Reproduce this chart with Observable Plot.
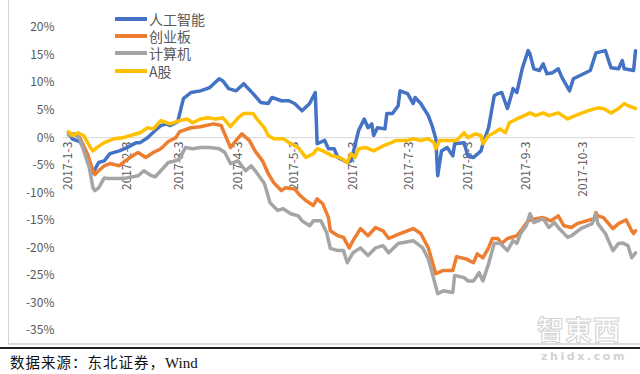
<!DOCTYPE html>
<html><head><meta charset="utf-8">
<script src="https://cdn.jsdelivr.net/npm/d3@7"></script>
<script src="https://cdn.jsdelivr.net/npm/@observablehq/plot@0.6"></script>
<style>
body{margin:0;background:#fff;font-family:"Noto Sans CJK SC","Noto Sans",sans-serif;}
#wrap{position:relative;width:640px;height:374px;overflow:hidden;background:#fff;}
#chart{position:absolute;left:0;top:0;}
#border{position:absolute;left:8px;top:0;width:631px;height:343px;border-left:1px solid #d4d4d4;border-bottom:2px solid #dcdcdc;}
#rule{position:absolute;left:0;top:347px;width:640px;height:2px;background:#222;}
#legend{position:absolute;left:115px;top:10px;}
.row{height:17.4px;display:flex;align-items:center;overflow:visible;}
.sw{width:32px;height:4px;margin-right:2px;flex:none;}
.lt{display:block;font-size:14px;color:#595959;line-height:16px;height:16px;}
#caption{position:absolute;left:10px;top:352px;font-size:14.5px;letter-spacing:1px;color:#111;line-height:20px;}
#caption .w{font-family:"Liberation Serif",serif;letter-spacing:0;font-size:15px;}
#wm1{position:absolute;left:537px;top:314px;font-size:27px;line-height:30px;height:30px;font-weight:bold;color:rgba(255,255,255,0.6);-webkit-text-stroke:1px #d2d2d2;letter-spacing:1px;}
#wm2{position:absolute;left:541px;top:351px;font-size:11px;line-height:12px;height:12px;font-weight:bold;color:#d2d2d2;letter-spacing:2.6px;font-family:"DejaVu Sans",sans-serif;}
</style></head><body>
<div id="wrap">
  <div id="chart"></div>
  <div id="border"></div>
  <div id="legend"></div>
  <div id="wm1">智東西</div>
  <div id="rule"></div>
  <div id="wm2">zhidx.com</div>
  <div id="caption">数据来源：东北证券，<span class="w">Wind</span></div>
</div>
<script>
const seriesNames = ["人工智能", "创业板", "计算机", "A股"];
const seriesColors = ["#4472C4", "#ED7D31", "#A5A5A5", "#FFC000"];

const aiDates = ["01-03","01-05","01-07","01-09","01-12","01-15","01-16","01-19","01-22","01-25","01-30","02-03","02-08","02-10","02-14","02-18","02-21","02-24","02-26","03-02","03-05","03-09","03-14","03-19","03-24","03-26","03-29","04-02","04-06","04-11","04-15","04-19","04-21","04-26","04-30","05-03","05-07","05-11","05-14","05-15","05-19","05-21","05-24","05-26","05-31","06-02","06-03","06-06","06-09","06-11","06-13","06-14","06-16","06-20","06-21","06-24","06-27","06-28","07-02","07-05","07-06","07-09","07-13","07-15","07-17","07-18","07-20","07-23","07-26","07-27","08-01","08-03","08-06","08-10","08-11","08-14","08-17","08-19","08-21","08-24","08-26","08-27","08-29","09-01","09-04","09-05","09-07","09-10","09-12","09-14","09-17","09-20","09-22","09-26","09-28","10-07","10-10","10-15","10-18","10-22","10-24","10-25","10-30","10-31"];
const aiValues = [0.9,-0.2,-0.5,-0.7,-2.4,-5.6,-6.4,-4.5,-4.2,-2.9,-2.4,-1.8,-0.9,-0.9,0,1.3,2.2,2.5,2.2,2.9,7.1,8.2,8.5,9.1,10.7,10.3,8.9,8.5,9.8,8.0,6.4,6.2,7.3,6.7,6.7,6.2,4.9,6.2,8.2,-1.1,-0.5,-2.0,-2.0,-3.6,-4.5,-4.2,-2.9,1.3,3.4,1.8,2.5,0.4,1.8,1.6,4.4,4.4,5.8,8.5,8.0,6.2,7.3,6.2,4.0,2.2,-0.2,-6.9,-2.4,-1.8,-3.3,-1.1,-0.9,-3.3,-3.6,-2.4,-1.1,1.8,7.6,8.0,8.2,5.3,7.6,8.9,8.2,12.7,15.8,15.2,12.5,12.2,13.4,11.6,11.8,12.5,10.9,8.5,10.7,12.2,15.4,15.8,12.7,12.5,14.0,12.5,12.2,15.8];

const cybDates = ["01-03","01-06","01-09","01-13","01-16","01-17","01-19","01-22","01-25","01-30","02-01","02-06","02-09","02-13","02-17","02-21","02-25","03-01","03-03","03-09","03-14","03-21","03-25","03-30","04-02","04-05","04-09","04-12","04-16","04-19","04-22","04-26","04-28","05-03","05-06","05-09","05-13","05-15","05-18","05-21","05-22","05-26","05-29","06-01","06-03","06-07","06-11","06-15","06-19","06-22","06-28","07-05","07-09","07-13","07-17","07-21","07-26","07-28","08-02","08-06","08-08","08-11","08-14","08-16","08-19","08-21","08-24","08-29","09-01","09-04","09-08","09-12","09-16","09-20","09-23","09-27","09-30","10-09","10-10","10-11","10-14","10-19","10-22","10-26","10-29","10-30","10-31"];
const cybValues = [0.5,0.7,0,-2.9,-6.0,-6.7,-6.0,-5.1,-4.7,-5.1,-4.5,-3.3,-2.7,-3.6,-2.7,-2.0,-0.7,0,1.1,1.8,2.0,2.5,2.2,-1.8,-0.5,0.7,-0.5,-2.4,-4.2,-6.5,-8.2,-9.6,-9.1,-9.3,-10.5,-11.4,-12.3,-11.1,-12.0,-14.5,-16.9,-17.8,-18.1,-20.0,-18.7,-16.5,-17.8,-16.3,-16.9,-18.3,-17.4,-16.5,-17.4,-20.0,-24.7,-24.1,-24.1,-21.6,-22.0,-22.7,-21.1,-21.8,-20.0,-18.3,-18.3,-19.2,-18.3,-17.8,-16.5,-15.1,-14.7,-14.5,-15.1,-14.2,-16.0,-16.3,-15.6,-14.7,-13.6,-14.2,-14.5,-16.5,-15.6,-14.9,-16.9,-17.4,-16.9];

const jsjDates = ["01-03","01-06","01-09","01-14","01-16","01-17","01-19","01-22","01-24","01-30","02-03","02-09","02-12","02-16","02-18","02-21","02-25","03-01","03-03","03-06","03-10","03-14","03-19","03-24","03-27","03-30","04-03","04-07","04-10","04-13","04-17","04-20","04-24","04-27","05-01","05-05","05-07","05-11","05-13","05-17","05-20","05-22","05-26","05-29","05-31","06-03","06-07","06-11","06-15","06-19","06-22","06-27","07-05","07-10","07-13","07-15","07-18","07-21","07-26","07-27","08-01","08-03","08-06","08-09","08-11","08-14","08-17","08-20","08-24","08-27","08-29","08-31","09-03","09-05","09-07","09-12","09-15","09-18","09-20","09-25","09-27","10-02","10-08","10-10","10-11","10-15","10-19","10-22","10-24","10-27","10-29","10-31"];
const jsjValues = [0.5,0.7,-0.2,-5.4,-9.1,-9.6,-9.1,-7.3,-7.4,-7.4,-7.3,-6.9,-6.0,-6.9,-7.1,-6.0,-4.5,-4.2,-3.8,-1.8,-2.0,-1.8,-1.8,-2.0,-2.7,-4.7,-4.2,-6.0,-5.1,-6.4,-8.3,-11.8,-13.2,-12.9,-13.8,-14.2,-15.1,-16.0,-15.1,-15.1,-17.2,-20.1,-20.5,-20.5,-22.7,-20.9,-20.0,-21.4,-20.0,-19.6,-20.9,-19.2,-18.7,-20.0,-22.0,-24.5,-28.3,-27.8,-28.1,-25.0,-25.4,-26.0,-26.0,-24.5,-26.0,-22.9,-19.2,-19.1,-20.5,-18.7,-19.2,-17.4,-16.0,-13.8,-15.4,-14.7,-16.3,-15.4,-16.3,-18.1,-17.8,-16.5,-15.6,-13.8,-15.6,-17.4,-20.5,-19.2,-19.1,-19.6,-21.8,-20.9];

const agDates = ["01-03","01-05","01-08","01-11","01-15","01-16","01-18","01-22","01-27","02-01","02-05","02-10","02-14","02-17","02-21","02-26","03-03","03-07","03-10","03-14","03-18","03-22","03-26","03-30","04-03","04-06","04-11","04-13","04-17","04-19","04-22","04-27","05-01","05-05","05-09","05-13","05-15","05-18","05-23","05-27","05-31","06-02","06-04","06-06","06-10","06-14","06-19","06-22","06-26","07-02","07-05","07-09","07-13","07-16","07-17","07-19","07-23","07-28","08-01","08-03","08-07","08-10","08-11","08-14","08-17","08-20","08-23","08-25","08-29","09-02","09-05","09-08","09-12","09-15","09-20","09-25","09-29","10-06","10-11","10-14","10-18","10-22","10-25","10-27","10-31"];
const agValues = [1.1,0.4,0.9,0.4,-2.0,-2.4,-1.8,-0.9,-0.2,0,0.4,0.9,1.8,1.6,3.1,2.5,3.1,3.4,2.7,3.4,3.6,3.4,3.6,2.0,3.6,4.4,4.4,3.4,1.8,0.4,-0.2,-0.2,-1.1,-1.8,-3.6,-2.9,-2.0,-2.4,-3.3,-3.6,-4.5,-2.9,-3.6,-2.0,-1.8,-2.4,-1.5,-1.1,-0.5,-0.5,-0.2,-0.5,-0.2,-0.9,-2.0,-0.5,-0.5,-0.5,0.9,0,0.7,0.4,-1.1,0.4,0.9,1.6,0.9,2.7,3.4,4.0,4.5,4.0,4.5,4.0,4.5,3.4,4.0,4.9,5.4,5.3,4.5,5.3,6.2,5.8,5.3];

const xTickDates = ["01-03","02-03","03-03","04-03","05-03","06-03","07-03","08-03","09-03","10-03"];
const xTickLabels = ["2017-1-3","2017-2-3","2017-3-3","2017-4-3","2017-5-3","2017-6-3","2017-7-3","2017-8-3","2017-9-3","2017-10-3"];
const yTicks = [20, 15, 10, 5, 0, -5, -10, -15, -20, -25, -30, -35];
const xStart = "01-03", xEnd = "10-31";

const parse = d3.timeParse("%Y-%m-%d");
const toDate = s => parse("2017-" + s);

const seriesData = [
  {dates: aiDates, values: aiValues},
  {dates: cybDates, values: cybValues},
  {dates: jsjDates, values: jsjValues},
  {dates: agDates, values: agValues}
].map((s, k) => s.dates.map((d, i) => ({name: seriesNames[k], date: toDate(d), value: s.values[i]})));

const tickRows = xTickDates.map((d, i) => ({date: toDate(d), label: xTickLabels[i], level: 0}));

const chart = Plot.plot({
  width: 640,
  height: 346,
  marginLeft: 68,
  marginRight: 5,
  marginTop: 27,
  marginBottom: 16,
  x: {type: "time", domain: [toDate(xStart), toDate(xEnd)], axis: null},
  y: {domain: [-35, 20]},
  color: {domain: seriesNames, range: seriesColors},
  style: {fontFamily: "'Noto Sans CJK SC','Noto Sans',sans-serif", fontSize: "12px", background: "transparent", overflow: "visible"},
  marks: [
    Plot.ruleY([0], {stroke: "#d9d9d9", strokeWidth: 1, insetLeft: -5}),
    Plot.axisY({ticks: yTicks, tickSize: 0, tickPadding: 14, tickFormat: d => d + "%", color: "#595959", label: null, fontSize: 12}),
    Plot.text(tickRows, {x: "date", y: "level", text: "label", rotate: -90, textAnchor: "end", dy: 4, fill: "#595959", fontSize: 12}),
    ...seriesData.map(rows => Plot.line(rows, {x: "date", y: "value", stroke: "name", strokeWidth: 3.5, strokeLinejoin: "round", strokeLinecap: "round"}))
  ]
});
document.getElementById("chart").appendChild(chart);

const legend = document.getElementById("legend");
seriesNames.forEach((n, i) => {
  const row = document.createElement("div");
  row.className = "row";
  row.innerHTML = `<span class="sw" style="background:${seriesColors[i]}"></span><span class="lt">${n}</span>`;
  legend.appendChild(row);
});
</script>
</body></html>
